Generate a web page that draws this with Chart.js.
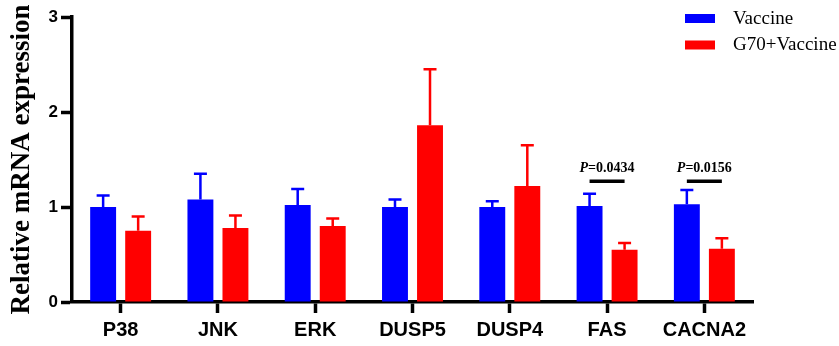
<!DOCTYPE html>
<html>
<head>
<meta charset="utf-8">
<script src="https://cdn.jsdelivr.net/npm/chart.js@4.4.1/dist/chart.umd.min.js"></script>
<style>
  html, body { margin: 0; padding: 0; background: #fff; }
  #wrap { width: 839px; height: 346px; position: relative; }
</style>
</head>
<body>
<div id="wrap"><canvas id="chart"></canvas></div>
<script>
// ---- data ----
const genes = ['P38', 'JNK', 'ERK', 'DUSP5', 'DUSP4', 'FAS', 'CACNA2'];
const seriesNames = ['Vaccine', 'G70+Vaccine'];
const vaccineMean = [1.00, 1.08, 1.02, 1.00, 1.00, 1.01, 1.03];
const vaccineErr  = [0.12, 0.27, 0.17, 0.08, 0.06, 0.13, 0.15];
const g70Mean     = [0.75, 0.78, 0.80, 1.86, 1.22, 0.55, 0.56];
const g70Err      = [0.15, 0.13, 0.08, 0.59, 0.43, 0.07, 0.11];
const yTicks = [0, 1, 2, 3];

// significance brackets
const sigGenes  = ['FAS', 'CACNA2'];
const sigPValue = ['0.0434', '0.0156'];
const sigLevel  = [1.27, 1.27];

const BLUE = '#0000FF';
const RED = '#FF0000';
const sans = "'Liberation Sans', Arial, sans-serif";
const serif = "'Liberation Serif', 'Times New Roman', serif";

// upward-only error bars with caps
const errorBarPlugin = {
    id: 'errorBars',
    afterDatasetsDraw(chart) {
        const ctx = chart.ctx;
        const y = chart.scales.y;
        chart.data.datasets.forEach((ds, i) => {
            const meta = chart.getDatasetMeta(i);
            meta.data.forEach((bar, j) => {
                const top = y.getPixelForValue(ds.data[j]);
                const cap = y.getPixelForValue(ds.data[j] + ds.errors[j]);
                ctx.save();
                ctx.strokeStyle = ds.backgroundColor;
                ctx.lineWidth = 2.5;
                ctx.beginPath();
                ctx.moveTo(bar.x, top);
                ctx.lineTo(bar.x, cap);
                ctx.moveTo(bar.x - 6.5, cap);
                ctx.lineTo(bar.x + 6.5, cap);
                ctx.stroke();
                ctx.restore();
            });
        });
    }
};

// P-value bars above the pairs
const sigPlugin = {
    id: 'sigBars',
    afterDatasetsDraw(chart) {
        const ctx = chart.ctx;
        const y = chart.scales.y;
        const m0 = chart.getDatasetMeta(0);
        const m1 = chart.getDatasetMeta(1);
        sigGenes.forEach((g, k) => {
            const idx = genes.indexOf(g);
            const x1 = m0.data[idx].x;
            const x2 = m1.data[idx].x;
            const ly = y.getPixelForValue(sigLevel[k]);
            ctx.save();
            ctx.strokeStyle = '#000';
            ctx.lineWidth = 3.5;
            ctx.beginPath();
            ctx.moveTo(x1, ly);
            ctx.lineTo(x2, ly);
            ctx.stroke();

            const fontP = 'italic bold 14px ' + serif;
            const fontN = 'bold 14px ' + serif;
            const rest = '=' + sigPValue[k];
            ctx.font = fontP;
            const wP = ctx.measureText('P').width;
            ctx.font = fontN;
            const wR = ctx.measureText(rest).width;
            const start = (x1 + x2) / 2 - (wP + wR) / 2;
            ctx.fillStyle = '#000';
            ctx.textBaseline = 'alphabetic';
            ctx.textAlign = 'left';
            ctx.font = fontP;
            ctx.fillText('P', start, ly - 9);
            ctx.font = fontN;
            ctx.fillText(rest, start + wP, ly - 9);
            ctx.restore();
        });
    }
};

// legend in the top right corner
const legendPlugin = {
    id: 'cornerLegend',
    afterDraw(chart) {
        const ctx = chart.ctx;
        ctx.save();
        chart.data.datasets.forEach((ds, i) => {
            const top = 14 + i * 26.5;
            ctx.fillStyle = ds.backgroundColor;
            ctx.fillRect(685, top, 30, 9);
            ctx.fillStyle = '#000';
            ctx.font = '19px ' + serif;
            ctx.textBaseline = 'middle';
            ctx.textAlign = 'left';
            ctx.fillText(ds.label, 733, top + 5);
        });
        ctx.restore();
    }
};

new Chart(document.getElementById('chart'), {
    type: 'bar',
    data: {
        labels: genes,
        datasets: [
            { label: seriesNames[0], data: vaccineMean, errors: vaccineErr, backgroundColor: BLUE,
              categoryPercentage: 0.72, barPercentage: 0.74 },
            { label: seriesNames[1], data: g70Mean, errors: g70Err, backgroundColor: RED,
              categoryPercentage: 0.72, barPercentage: 0.74 }
        ]
    },
    options: {
        responsive: true,
        maintainAspectRatio: false,
        animation: false,
        layout: { padding: { top: 17, right: 86, left: 0, bottom: 0 } },
        plugins: {
            legend: { display: false },
            tooltip: { enabled: false }
        },
        scales: {
            x: {
                grid: { display: true, drawOnChartArea: false, offset: false,
                        tickLength: 11, tickWidth: 3.5, tickColor: '#000' },
                border: { display: true, width: 3.5, color: '#000' },
                ticks: { color: '#000', padding: 5,
                         font: { family: sans, size: 20, weight: 'bold' } },
                afterFit: (s) => { s.height = 44; }
            },
            y: {
                min: 0,
                max: 3,
                afterBuildTicks: (s) => { s.ticks = yTicks.map(v => ({ value: v })); },
                grid: { display: true, drawOnChartArea: false,
                        tickLength: 11, tickWidth: 3.5, tickColor: '#000' },
                border: { display: true, width: 3.5, color: '#000' },
                ticks: { color: '#000', padding: 3,
                         font: { family: sans, size: 17, weight: 'bold' } },
                title: {
                    display: true,
                    text: 'Relative mRNA expression',
                    color: '#000',
                    padding: { top: 6, bottom: 0 },
                    font: { family: serif, size: 27, weight: 'bold' }
                },
                afterFit: (s) => { s.width = 72; }
            }
        }
    },
    plugins: [errorBarPlugin, sigPlugin, legendPlugin]
});
</script>
</body>
</html>
